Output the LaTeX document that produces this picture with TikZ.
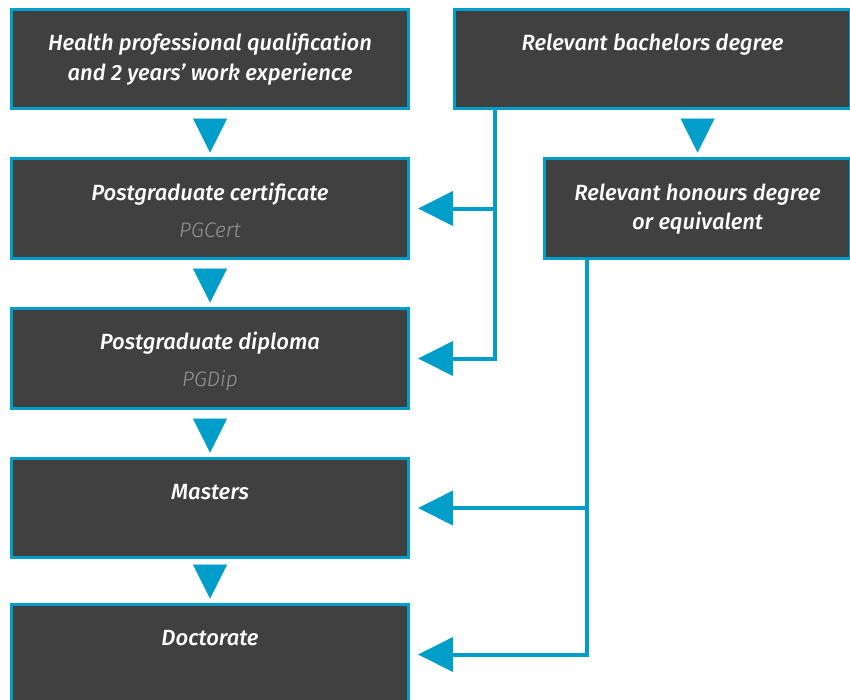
\documentclass[tikz,border=0pt]{standalone}
\usepackage{fontspec}
\setmainfont{Fira Sans}
\newfontfamily\titlef{Fira Sans Medium Italic}
\newfontfamily\subf{Fira Sans Light Italic}
\usetikzlibrary{arrows.meta}
\definecolor{cblue}{RGB}{0,158,200}
\definecolor{cgray}{RGB}{64,64,64}
\definecolor{csub}{RGB}{150,150,150}
\begin{document}
\begin{tikzpicture}[x=1pt,y=-1pt,
  box/.style={draw=cblue,line width=3pt,fill=cgray,inner sep=0pt,outer sep=0pt,minimum width=397pt},
  ttl/.style={anchor=base,text=white,font=\titlef\fontsize{22}{29}\selectfont,inner sep=0pt},
  sub/.style={anchor=base,text=csub,font=\subf\fontsize{21}{24}\selectfont,inner sep=0pt},
  conn/.style={draw=cblue,line width=4pt},
  lefttip/.style={-{Triangle[width=34pt,length=35pt]},shorten >=9.5pt},
  downarr/.style={draw=cblue,line width=0.01pt,-{Triangle[width=34pt,length=34pt,fill=cblue]},shorten <=8.5pt,shorten >=6pt}
]
\useasboundingbox (0,0) rectangle (850,699);
\begin{scope}
\clip (0,0) rectangle (850,699);
% left column
\node[box,minimum height=99pt] (b1) at (210,59) {};
\node[box,minimum height=100pt] (b2) at (210,208.5) {};
\node[box,minimum height=100pt] (b3) at (210,358.5) {};
\node[box,minimum height=99pt] (b4) at (210,508) {};
\node[box,minimum height=100pt] (b5) at (210,654.5) {};
% right column
\node[box,minimum width=396pt,minimum height=99pt] (r1) at (652.5,59) {};
\node[box,minimum width=306pt,minimum height=100pt] (r2) at (697.5,208.5) {};
\end{scope}
% texts
\node[ttl] (t1a) at (210,50) {Health professional qualification};
\node[ttl] (t1b) at (210,80) {and 2 years’ work experience};
\node[ttl] (t2) at (210,200) {Postgraduate certificate};
\node[sub] (s2) at (210,237) {PGCert};
\node[ttl] (t3) at (210,349) {Postgraduate diploma};
\node[sub] (s3) at (210,386) {PGDip};
\node[ttl] (t4) at (210,499) {Masters};
\node[ttl] (t5) at (210,645) {Doctorate};
\node[ttl] (tr1) at (652.5,50) {Relevant bachelors degree};
\node[ttl] (tr2a) at (697.5,200) {Relevant honours degree};
\node[ttl] (tr2b) at (697.5,229) {or equivalent};
% down arrows
\draw[downarr] (b1) -- (b2);
\draw[downarr] (b2) -- (b3);
\draw[downarr] (b3) -- (b4);
\draw[downarr] (b4) -- (b5);
\draw[downarr] (r1.south -| r2) -- (r2);
% side connectors
\coordinate (jx1) at (495,0);
\coordinate (jx2) at (587,0);
\draw[conn,lefttip] (r1.south -| jx1) |- (b3.east);
\draw[conn,lefttip] (b2.east -| jx1) -- (b2.east);
\draw[conn,lefttip] (r2.south -| jx2) |- (b5.east);
\draw[conn,lefttip] (b4.east -| jx2) -- (b4.east);
\end{tikzpicture}
\end{document}
